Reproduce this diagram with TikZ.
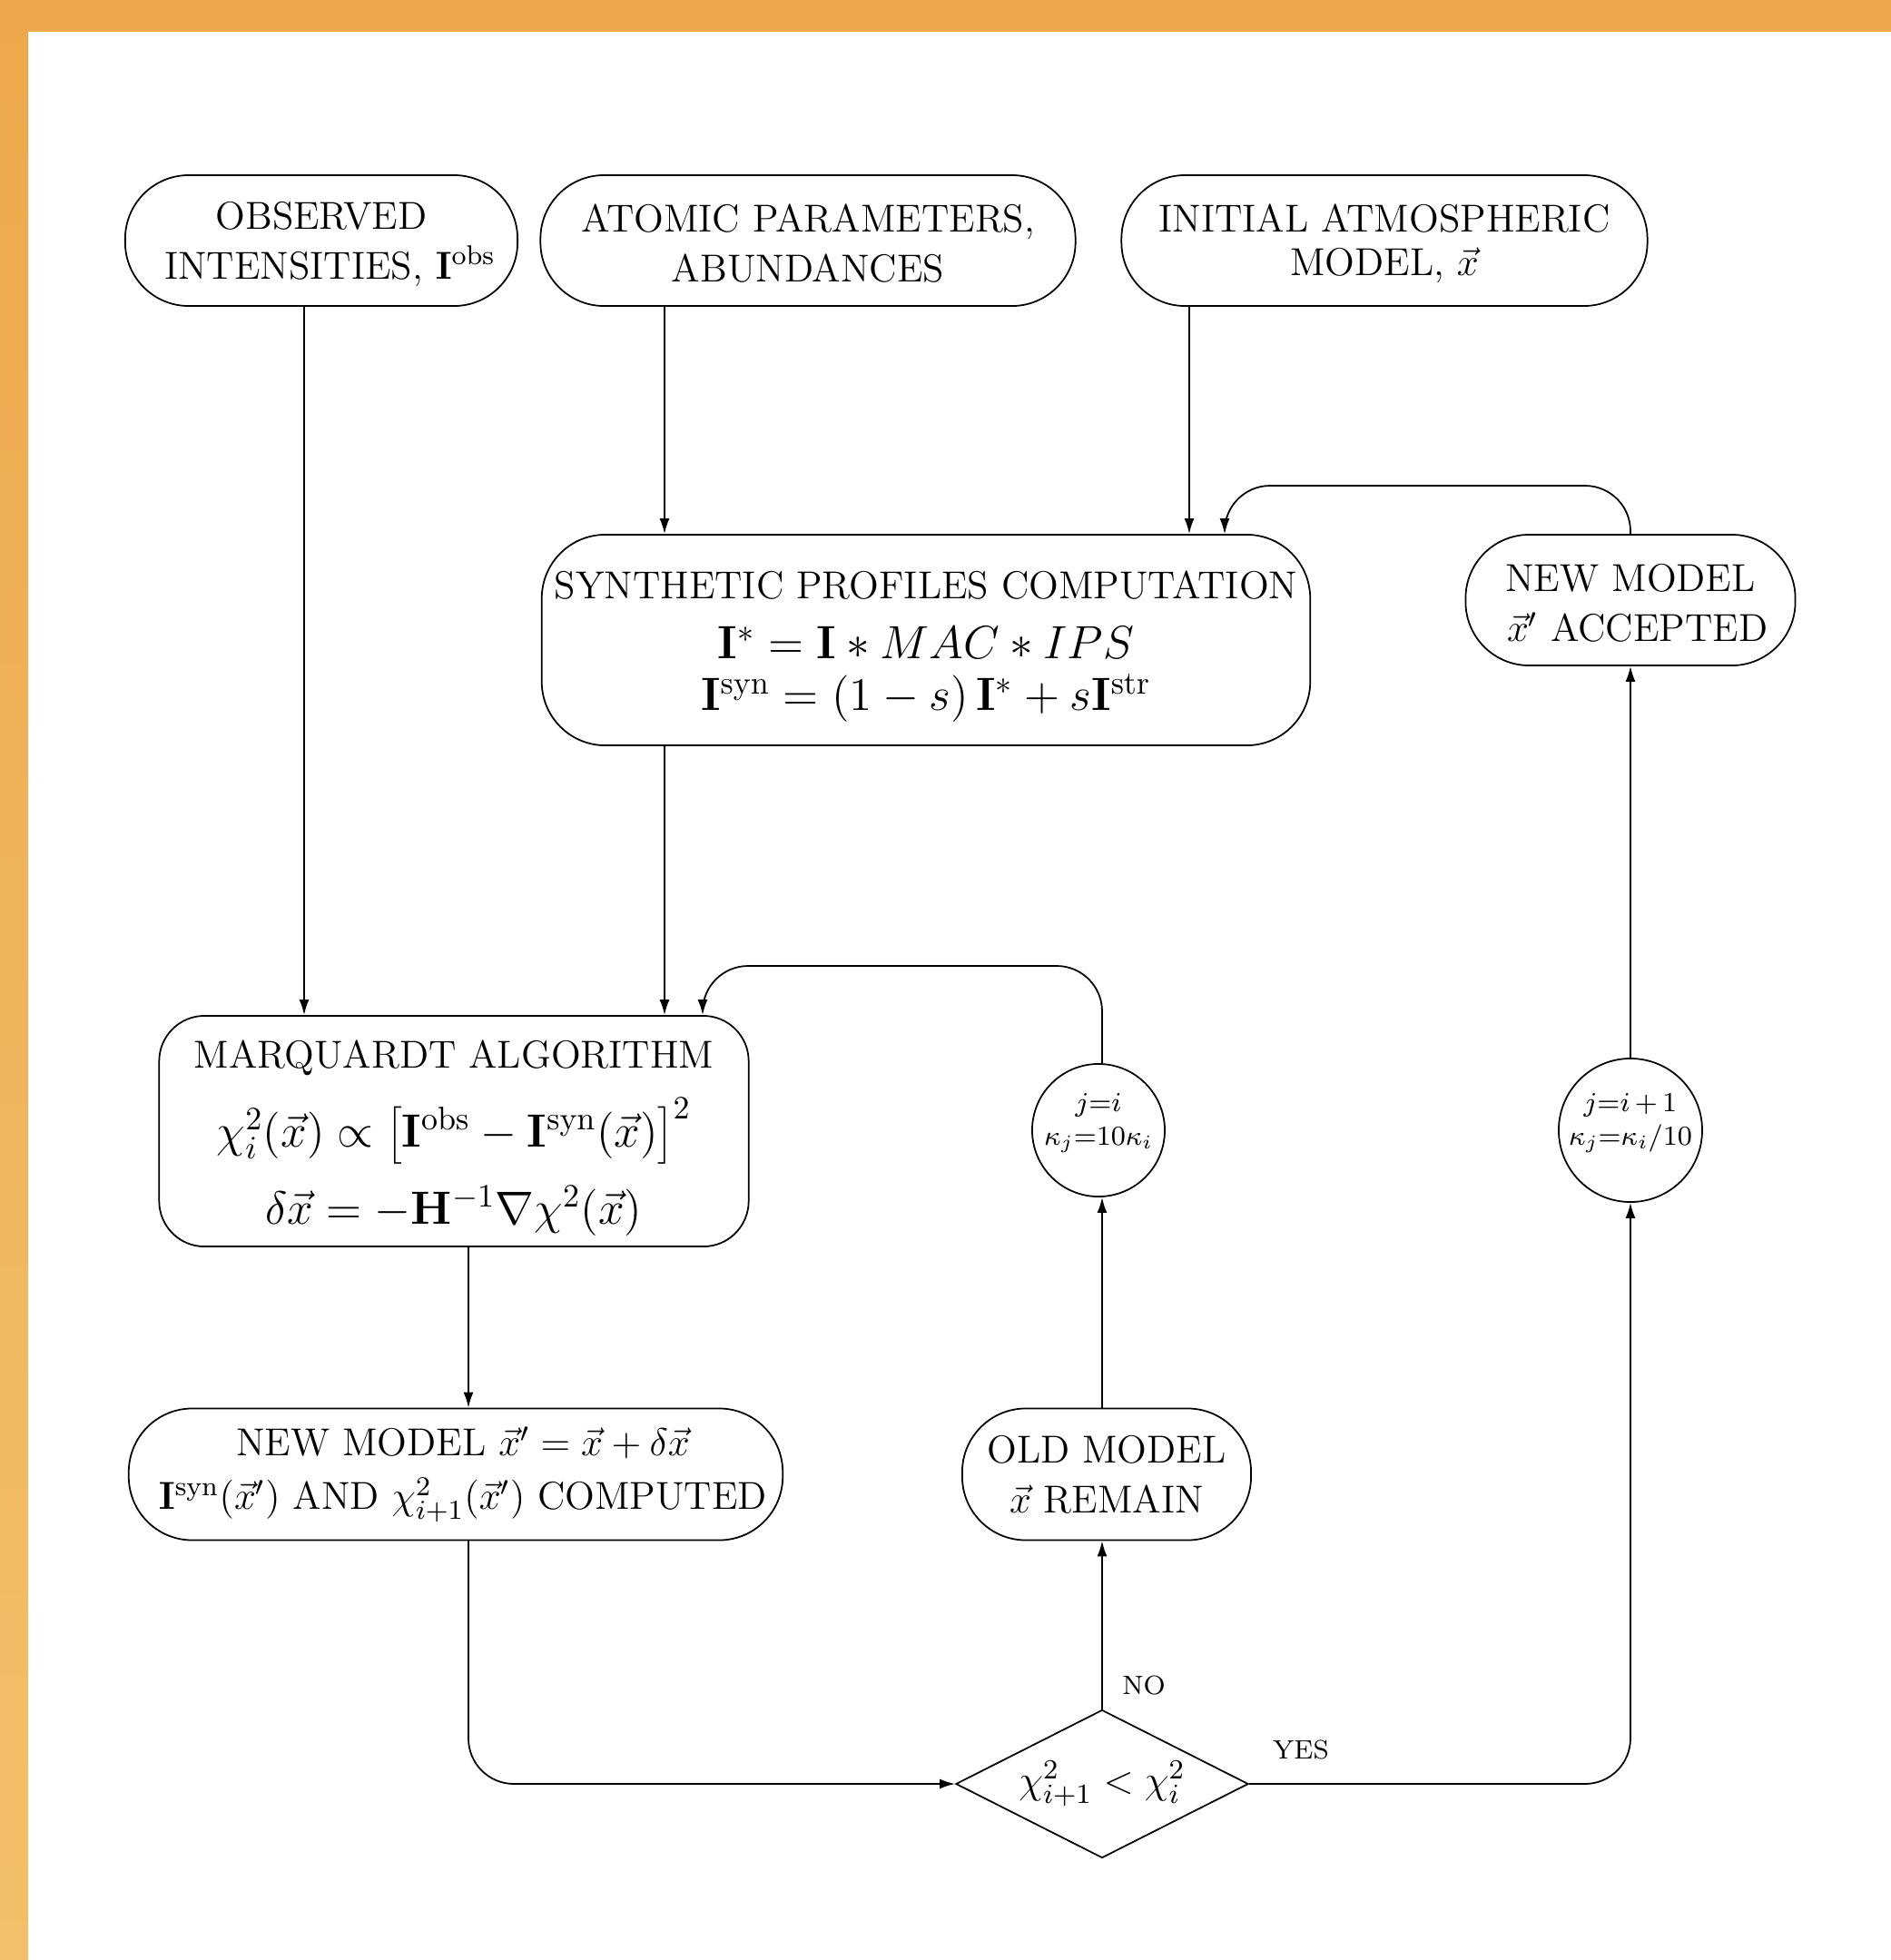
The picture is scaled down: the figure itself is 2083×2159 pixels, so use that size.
\RequirePackage{fix-cm}
\documentclass[tikz,border=0pt]{standalone}
\usetikzlibrary{arrows.meta,shapes.geometric}
\definecolor{orangetop}{RGB}{237,168,75}
\definecolor{orangebot}{RGB}{242,192,106}
\newcommand{\fBox}{\fontsize{12.2}{15.6}\selectfont}
\newcommand{\fMath}{\fontsize{14.6}{17.5}\selectfont}
\newcommand{\fLbl}{\fontsize{8.3}{10}\selectfont}
\newcommand{\fCirc}{\fontsize{12.3}{10.5}\selectfont}
\newcommand{\fDia}{\fontsize{12.4}{15}\selectfont}
\newcommand{\lowerline}{\mbox{}\\[-4.9pt]}
\begin{document}
\begin{tikzpicture}[x=0.01cm,y=-0.01cm,
  box/.style={draw, line width=0.5pt, rounded corners=0.7cm, inner sep=0pt, align=center, font=\fBox},
  circ/.style={draw, line width=0.5pt, circle, minimum size=1.46cm, inner sep=0pt, align=center, font=\fCirc},
  decision/.style={draw, line width=0.5pt, diamond, aspect=2, minimum width=3.22cm, minimum height=1.63cm, inner sep=0pt, font=\fDia},
  arr/.style={line width=0.5pt, -{Latex[length=0.17cm,width=0.11cm]}},
  bendy/.style={rounded corners=0.5cm},
  lbl/.style={font=\fLbl, inner sep=0pt}]
\useasboundingbox (0,0) rectangle (2083,2159);
\fill[white] (0,0) rectangle (2083,2159);
\shade[top color=orangetop,bottom color=orangebot] (0,0) rectangle (31,2159);
\fill[orangetop] (0,0) rectangle (2083,35);

% nodes
\node[box, minimum width=4.32cm, minimum height=1.44cm] (obs) at (354,265)
  {\lowerline OBSERVED\hspace*{-5.4pt}\\INTENSITIES, $\mathbf{I}^{\mathrm{obs}}$\hspace*{-5.4pt}};
\node[box, minimum width=5.89cm, minimum height=1.44cm] (atom) at (890,265)
  {\lowerline ATOMIC PARAMETERS,\\ABUNDANCES};
\node[box, minimum width=5.79cm, minimum height=1.44cm] (init) at (1525,265)
  {\lowerline INITIAL ATMOSPHERIC\\[-2pt]MODEL, $\vec{x}$};
\node[box, minimum width=8.46cm, minimum height=2.32cm] (syn) at (1020,705)
  {\mbox{}\\[-2.8pt]SYNTHETIC PROFILES COMPUTATION\\[3.2pt]{\fMath$\mathbf{I}^{*}=\mathbf{I}*MAC*IPS$}\\[0.6pt]{\fMath$\mathbf{I}^{\mathrm{syn}}=(1-s)\,\mathbf{I}^{*}+s\mathbf{I}^{\mathrm{str}}$}};
\node[box, minimum width=3.63cm, minimum height=1.44cm] (nma) at (1796,661)
  {\lowerline NEW MODEL\hspace*{-4.4pt}\\$\vec{x}'$ ACCEPTED\hspace*{-4.4pt}};
\node[box, rounded corners=0.5cm, minimum width=6.49cm, minimum height=2.54cm] (marq) at (500,1246)
  {\mbox{}\\[-2.5pt]MARQUARDT ALGORITHM\\[6pt]{\fMath$\chi^2_i(\vec{x})\propto\left[\mathbf{I}^{\mathrm{obs}}-\mathbf{I}^{\mathrm{syn}}(\vec{x})\right]^2$}\\[6pt]{\fMath$\delta\vec{x}=-\mathbf{H}^{-1}\nabla\chi^2(\vec{x})$}};
\node[circ] (c1) at (1210,1245) {$\scriptstyle j=i$\\$\scriptstyle\kappa_j=10\kappa_i$\\[-3.7pt]\mbox{}};
\node[circ] (c2) at (1796,1245) {$\scriptstyle j=i\,+\,1$\\$\scriptstyle\kappa_j=\kappa_i/10$\\[-3.7pt]\mbox{}};
\node[box, minimum width=7.2cm, minimum height=1.45cm] (nm) at (502,1624)
  {NEW MODEL $\vec{x}'=\vec{x}+\delta\vec{x}$\hspace*{-4.5pt}\\[1.2pt]$\mathbf{I}^{\mathrm{syn}}(\vec{x}')$ AND $\chi^2_{i+1}(\vec{x}')$ COMPUTED\hspace*{-4.5pt}};
\node[box, minimum width=3.18cm, minimum height=1.45cm] (om) at (1219,1624)
  {OLD MODEL\\$\vec{x}$ REMAIN};
\node[decision] (dia) at (1214,1965) {$\chi^2_{i+1}<\chi^2_i$};
\node[lbl] (no) at (1260,1857) {NO};
\node[lbl] (yes) at (1433,1928) {YES};

% helper coordinates
\coordinate (colA) at (335,0);
\coordinate (colB) at (732,0);
\coordinate (colC) at (1310,0);
\coordinate (colE) at (516,0);
\coordinate (colG) at (1214,0);
\coordinate (loopD) at (1349,535);
\coordinate (loopF) at (774,1064);

% connectors
\draw[arr] (obs.south -| colA) -- (marq.north -| colA);
\draw[arr] (atom.south -| colB) -- (syn.north -| colB);
\draw[arr] (init.south -| colC) -- (syn.north -| colC);
\draw[arr] (syn.south -| colB) -- (marq.north -| colB);
\draw[arr, bendy] (nma.north) |- (loopD) -- (syn.north -| loopD);
\draw[arr] (marq.south -| colE) -- (nm.north -| colE);
\draw[arr, bendy] (nm.south -| colE) |- (dia.west);
\draw[arr] (dia.north) -- (om.south -| colG);
\draw[arr] (om.north -| colG) -- (c1.south -| colG);
\draw[arr, bendy] (c1.north -| colG) |- (loopF) -- (marq.north -| loopF);
\draw[arr, bendy] (dia.east) -| (c2.south);
\draw[arr] (c2.north) -- (nma.south);
\end{tikzpicture}
\end{document}
